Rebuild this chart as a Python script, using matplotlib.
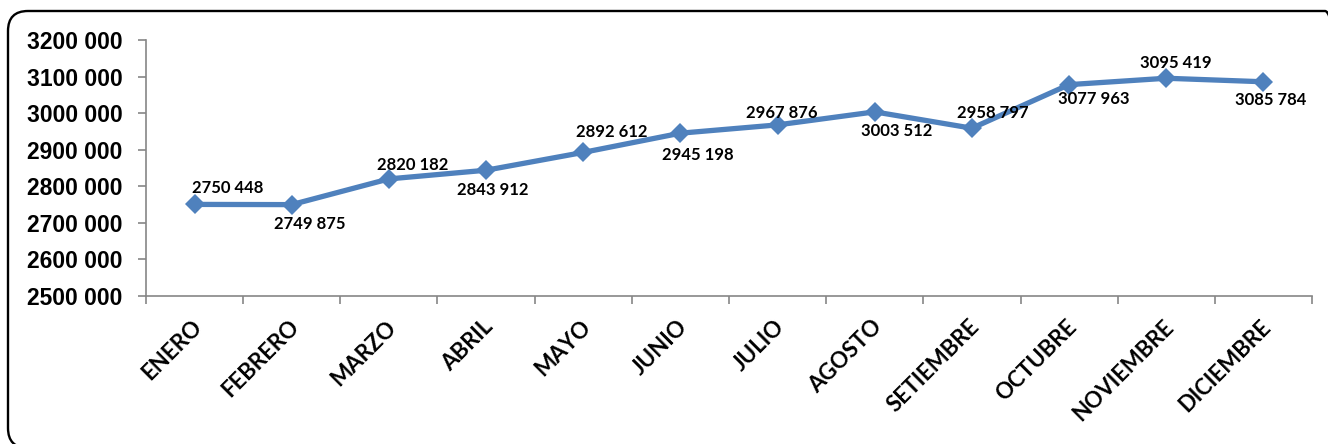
import numpy as np
import matplotlib
matplotlib.use('Agg')
import matplotlib.pyplot as plt
from matplotlib.patches import FancyBboxPatch
from matplotlib.transforms import IdentityTransform, ScaledTranslation
from matplotlib.ticker import MultipleLocator, FixedLocator, FuncFormatter

months = ['ENERO', 'FEBRERO', 'MARZO', 'ABRIL', 'MAYO', 'JUNIO', 'JULIO',
          'AGOSTO', 'SETIEMBRE', 'OCTUBRE', 'NOVIEMBRE', 'DICIEMBRE']
values = [2750448, 2749875, 2820182, 2843912, 2892612, 2945198, 2967876,
          3003512, 2958797, 3077963, 3095419, 3085784]

# label offsets in pixels (layout only)
label_dx = [33, 18, 24, 7, 28, 17, 4, 22, 21, 25, 10, 7]
label_dy = [16, -19, 14, -20, 20, -22, 12, -19, 15, -14, 15, -18]

W, H = 1328, 444
fig = plt.figure(figsize=(W / 100, H / 100), dpi=100)
ax = fig.add_axes([146 / W, 1 - 296 / H, (1312 - 146) / W, 256 / H])

x = np.arange(len(months))
ax.plot(x, values, color='#4F81BD', lw=3.8, marker='D', ms=10,
        markeredgewidth=0, zorder=3, clip_on=False)

ax.set_xlim(-0.5, len(months) - 0.5)
ax.set_ylim(2500000, 3200000)
ax.yaxis.set_major_locator(MultipleLocator(100000))
ax.yaxis.set_major_formatter(FuncFormatter(
    lambda v, p: f"{int(round(v)) // 1000} {int(round(v)) % 1000:03d}"))

for s in ['top', 'right']:
    ax.spines[s].set_visible(False)
for s in ['left', 'bottom']:
    ax.spines[s].set_color('#868686')
    ax.spines[s].set_linewidth(1.2)

ax.set_xticks(x)
ax.set_xticklabels(months)
ax.xaxis.set_minor_locator(FixedLocator(np.arange(-0.5, len(months), 1.0)))
ax.tick_params(axis='x', which='major', length=0, pad=20)
ax.tick_params(axis='x', which='minor', length=6, width=1.2, color='#868686', direction='out')
ax.tick_params(axis='y', which='major', length=6, width=1.2, color='#868686', direction='out', pad=11)

shift = ScaledTranslation(4 / 100, 0, fig.dpi_scale_trans)
for lab in ax.get_xticklabels():
    lab.set_rotation(45)
    lab.set_ha('right')
    lab.set_va('center')
    lab.set_rotation_mode('anchor')
    lab.set_fontfamily('Lato')
    lab.set_fontweight('bold')
    lab.set_fontsize(16)
    lab.set_transform(lab.get_transform() + shift)

for lab in ax.get_yticklabels():
    lab.set_fontfamily('Liberation Sans')
    lab.set_fontweight('bold')
    lab.set_fontsize(16.5)

for xi, v, dx, dy in zip(x, values, label_dx, label_dy):
    txt = f"{v // 1000} {v % 1000:03d}"
    ax.annotate(txt, (xi, v), xytext=(dx * 0.72, dy * 0.72), textcoords='offset points',
                ha='center', va='center', fontfamily='Lato', fontweight='bold',
                fontsize=12, zorder=4, annotation_clip=False)

border = FancyBboxPatch((8, -4), 1337, 437, boxstyle='round,pad=0,rounding_size=20',
                        transform=IdentityTransform(), fill=False, edgecolor='black',
                        linewidth=1.7, clip_on=False)
fig.add_artist(border)

fig.savefig('out.png', dpi=100)
